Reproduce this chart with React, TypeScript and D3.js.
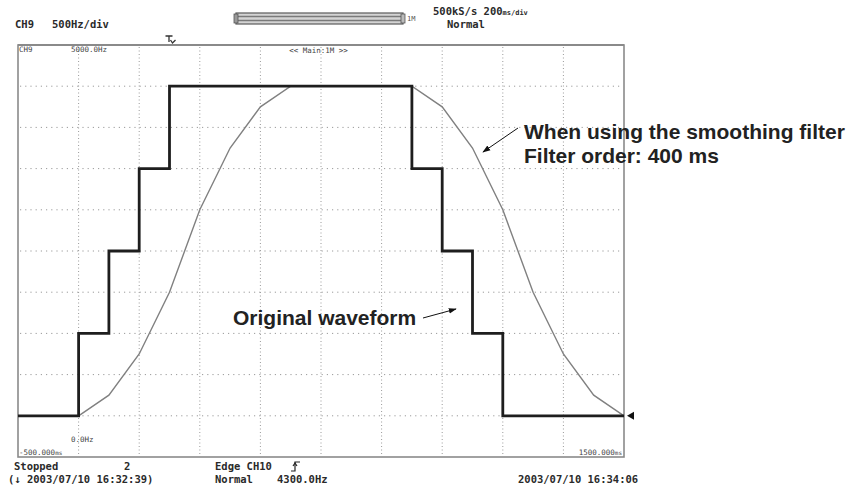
import React from "react";
import * as d3 from "d3";

// ---- data ----
const origTimes = [-500, -300, -200, -100, 0, 800, 900, 1000, 1100, 1500];
const origValues = [500, 1500, 2500, 3500, 4500, 3500, 2500, 1500, 500, 500];

const smoothTimes = [-300, -200, -100, 0, 100, 200, 300, 400, 800, 900, 1000, 1100, 1200, 1300, 1400, 1500];
const smoothValues = [500, 750, 1250, 2000, 3000, 3750, 4250, 4500, 4500, 4250, 3750, 3000, 2000, 1250, 750, 500];

const xGrid = [-300, -100, 100, 300, 500, 700, 900, 1100, 1300];
const yGrid = [500, 1000, 1500, 2000, 2500, 3000, 3500, 4000, 4500];

const xDomain: [number, number] = [-500, 1500];
const yDomain: [number, number] = [0, 5000];

const W = 859;
const H = 486;
const L = 18, R = 624, T = 45, B = 457;

const MONO = "'DejaVu Sans Mono', 'Liberation Mono', monospace";
const SANS = "'Liberation Sans', Arial, Helvetica, sans-serif";

export default function App() {
  const x = d3.scaleLinear().domain(xDomain).range([L, R]);
  const y = d3.scaleLinear().domain(yDomain).range([B, T]);

  const orig = origTimes.map((t, i) => [t, origValues[i]] as [number, number]);
  const smooth = smoothTimes.map((t, i) => [t, smoothValues[i]] as [number, number]);

  const stepLine = d3
    .line<[number, number]>()
    .x((d) => x(d[0]))
    .y((d) => y(d[1]))
    .curve(d3.curveStepAfter);
  const smoothLine = d3
    .line<[number, number]>()
    .x((d) => x(d[0]))
    .y((d) => y(d[1]));

  const tc = "#2a2a2a";
  const lowY = y(origValues[origValues.length - 1]);

  return (
    <svg
      width={W}
      height={H}
      style={{ position: "absolute", left: 0, top: 0, background: "#fff" }}
    >
      <defs>
        <marker id="ah" viewBox="0 0 10 10" refX="9" refY="5" markerWidth="8" markerHeight="8" orient="auto-start-reverse" markerUnits="userSpaceOnUse">
          <path d="M0,1.5 L10,5 L0,8.5 Z" fill="#111" />
        </marker>
      </defs>
      <rect x={0} y={0} width={W} height={H} fill="#fff" />

      {/* header */}
      <g fontFamily={MONO} fontWeight="bold" fill={tc} fontSize={10.5}>
        <text x={15} y={28}>CH9</text>
        <text x={52} y={28}>500Hz/div</text>
        <text x={433} y={15}>
          500kS/s 200<tspan fontSize={7}>ms/div</tspan>
        </text>
        <text x={447} y={28}>Normal</text>
      </g>
      {/* record bar */}
      <g>
        <rect x={236} y={13} width={167} height={11} fill="#d4d4d4" stroke="#5a5a5a" strokeWidth={1.2} />
        <line x1={237} x2={402} y1={16.5} y2={16.5} stroke="#7a7a7a" strokeWidth={1.3} />
        <line x1={237} x2={402} y1={20.5} y2={20.5} stroke="#7a7a7a" strokeWidth={1.3} />
        <rect x={234} y={14} width={4} height={9} fill="#999" stroke="#555" strokeWidth={0.8} />
        <rect x={401} y={14} width={4} height={9} fill="#bbb" stroke="#555" strokeWidth={0.8} />
        <text x={407} y={21} fontFamily={MONO} fontSize={7} fill="#555">1M</text>
      </g>
      {/* trigger mark */}
      <g stroke="#333" strokeWidth={1.3} fill="none">
        <path d={`M${x(0) - 4},36 H${x(0) + 3} M${x(0) - 0.5},36 V42`} />
        <path d={`M${x(0) + 1},40 L${x(0) + 3},43 L${x(0) + 6},40`} />
      </g>

      {/* grid */}
      <g stroke="#9a9a9a" strokeWidth={1}>
        {xGrid.map((t) => (
          <line key={"vx" + t} x1={x(t)} x2={x(t)} y1={T + 2} y2={B - 1} strokeDasharray="1 2.5" />
        ))}
        {yGrid.map((v) => (
          <line key={"hy" + v} x1={L + 2} x2={R - 2} y1={y(v)} y2={y(v)} strokeDasharray="1.2 4" />
        ))}
      </g>

      {/* frame */}
      <rect x={L} y={T} width={R - L} height={B - T} fill="none" stroke="#8a8a8a" strokeWidth={1.6} />
      <line x1={L} x2={R} y1={T} y2={T} stroke="#8a8a8a" strokeWidth={2.2} />

      {/* in-plot labels */}
      <g fontFamily={MONO} fill="#444" fontSize={7.5}>
        <text x={19} y={52}>CH9</text>
        <text x={71} y={52}>5000.0Hz</text>
        <text x={(287 + 350) / 2} y={53} textAnchor="middle">{"<< Main:1M >>"}</text>
        <text x={71} y={442}>0.0Hz</text>
        <text x={19} y={455}>-500.000<tspan fontSize={6}>ms</tspan></text>
        <text x={622} y={455} textAnchor="end">1500.000<tspan fontSize={6}>ms</tspan></text>
      </g>

      {/* waveforms */}
      <path d={smoothLine(smooth) || ""} fill="none" stroke="#808080" strokeWidth={1.4} />
      <path d={stepLine(orig) || ""} fill="none" stroke="#1e1e1e" strokeWidth={2.8} />

      {/* right-edge level marker */}
      <path d={`M${R + 3},${lowY} L${R + 10},${lowY - 4} L${R + 10},${lowY + 4} Z`} fill="#111" />

      {/* footer */}
      <g fontFamily={MONO} fontWeight="bold" fill={tc} fontSize={10.5}>
        <text x={14} y={470}>Stopped</text>
        <text x={124} y={470}>2</text>
        <text x={215} y={470}>Edge CH10</text>
        <text x={8} y={483}>(↓ 2003/07/10 16:32:39)</text>
        <text x={215} y={483}>Normal</text>
        <text x={277} y={483}>4300.0Hz</text>
        <text x={518} y={483}>2003/07/10 16:34:06</text>
      </g>
      <g stroke="#222" strokeWidth={1.2} fill="none">
        <path d="M291,471 H295 V462 H300" />
        <path d="M293,466 L295,463 L297,466" />
      </g>

      {/* annotations */}
      <g fontFamily={SANS} fontWeight="bold" fill="#222" fontSize={21}>
        <text x={524} y={139}>When using the smoothing filter</text>
        <text x={524} y={163}>Filter order: 400 ms</text>
        <text x={233} y={325}>Original waveform</text>
      </g>
      <line x1={518} y1={128} x2={483} y2={152} stroke="#111" strokeWidth={1} markerEnd="url(#ah)" />
      <line x1={423} y1={318} x2={456} y2={309} stroke="#111" strokeWidth={1} markerEnd="url(#ah)" />
    </svg>
  );
}
